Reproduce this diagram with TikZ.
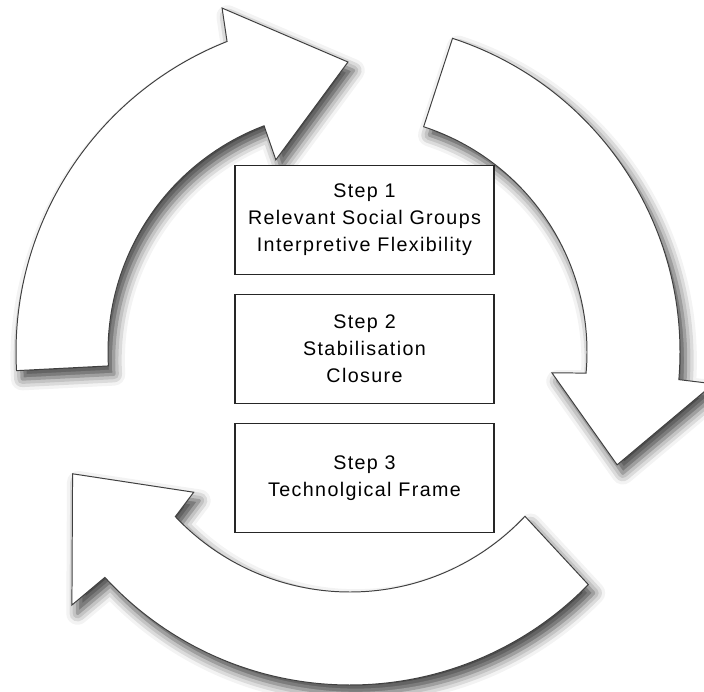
\documentclass[tikz,border=0pt]{standalone}
\usepackage{fontspec}
\setmainfont{Liberation Sans}[LetterSpace=7]
\usepackage{tikz}
\usetikzlibrary{positioning,shadows.blur}

\tikzset{
  cyclearrow/.style={draw=black!75, line width=0.7pt, fill=white,
    blur shadow={shadow xshift=4pt, shadow yshift=-6pt, shadow blur radius=8pt, shadow opacity=75}},
  stepbox/.style={draw=black!85, line width=0.8pt, fill=white, align=center,
    minimum width=6.475cm, minimum height=2.72cm, inner sep=2pt,
    font=\fontsize{14}{19.2}\selectfont}
}

\begin{document}
\begin{tikzpicture}[x=0.025cm, y=0.025cm, node distance=0.475cm]
\useasboundingbox (0, 0) rectangle (704, -691);

\begin{scope}[shift={(350, -352)}]
\draw[cyclearrow] (183.2:334) arc[start angle=183.2, end angle=111.6, radius=334]
  -- (110.4:367) -- (90.4:290) -- (111.1:206) -- (110.8:242)
  arc[start angle=110.8, end angle=183.3, radius=242] -- cycle;
\draw[cyclearrow] (71.9:330) arc[start angle=71.9, end angle=-4.8, radius=330]
  -- (-5:365) -- (-22.9:290) -- (-5.9:203) -- (-5.1:237)
  arc[start angle=-5.1, end angle=71.9, radius=237] -- cycle;
\draw[cyclearrow] (-44.3:333) arc[start angle=-44.3, end angle=-137.4, radius=333]
  -- (-137.7:376) -- (-156.3:303) -- (-138.1:210) -- (-136.7:240)
  arc[start angle=-136.7, end angle=-43.2, radius=240] -- cycle;
\end{scope}

\node[stepbox] (step1) at (364.5, -220) {Step 1\\Relevant Social Groups\\Interpretive Flexibility};
\node[stepbox, below=of step1] (step2) {Step 2\\Stabilisation\\Closure};
\node[stepbox, below=of step2] (step3) {Step 3\\Technolgical Frame};
\end{tikzpicture}
\end{document}
